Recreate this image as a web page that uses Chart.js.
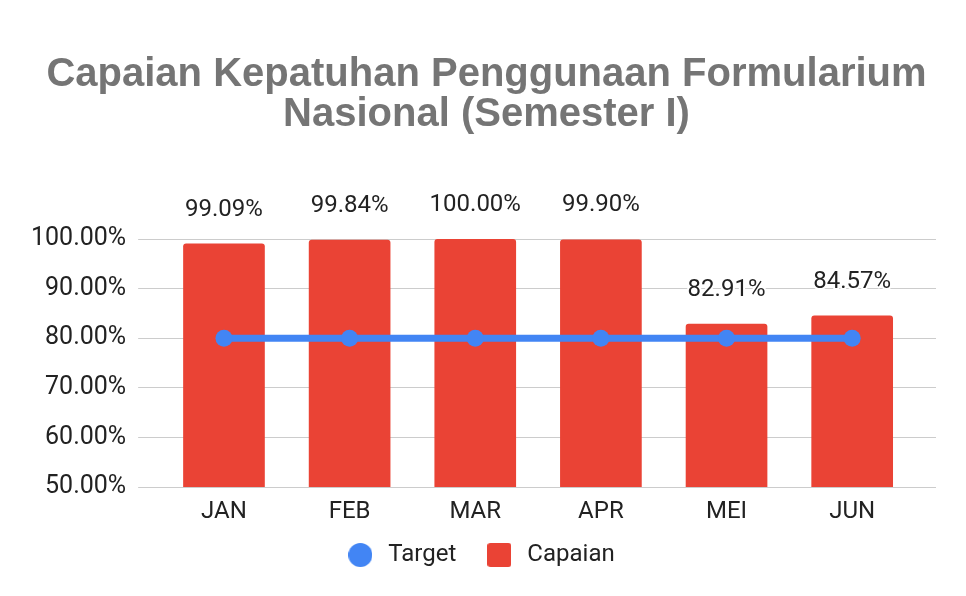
<!DOCTYPE html>
<html><head><meta charset="utf-8">
<script src="https://cdn.jsdelivr.net/npm/chart.js@4.4.0/dist/chart.umd.min.js"></script>
<style>html,body{margin:0;padding:0;background:#fff}#wrap{width:966px;height:596px;position:relative}</style>
</head><body><div id="wrap"><canvas id="c"></canvas></div>
<script>
const months = ['JAN', 'FEB', 'MAR', 'APR', 'MEI', 'JUN'];
const targetValues = [80, 80, 80, 80, 80, 80];
const capaianValues = [99.09, 99.84, 100.00, 99.90, 82.91, 84.57];
const titleLines = ['Capaian Kepatuhan Penggunaan Formularium', 'Nasional (Semester I)'];
const seriesNames = ['Target', 'Capaian'];

const RED = '#EA4335', BLUE = '#4285F4', GRID = '#cccccc', TXT = '#222222';

function swatch(color, shape) {
  const c = document.createElement('canvas');
  c.width = 24; c.height = 24;
  const g = c.getContext('2d');
  g.fillStyle = color;
  g.beginPath();
  if (shape === 'circle') g.arc(12, 12, 12, 0, Math.PI * 2);
  else g.roundRect(0, 0, 24, 24, 3);
  g.fill();
  return c;
}
const swatches = [swatch(BLUE, 'circle'), swatch(RED, 'rect')];

const valueLabels = {
  id: 'valueLabels',
  afterDatasetsDraw(chart) {
    const ctx = chart.ctx;
    const meta = chart.getDatasetMeta(1);
    ctx.save();
    ctx.font = '24px Roboto';
    ctx.textAlign = 'center';
    ctx.textBaseline = 'middle';
    ctx.lineJoin = 'round';
    meta.data.forEach((bar, i) => {
      const txt = capaianValues[i].toFixed(2) + '%';
      ctx.strokeStyle = '#ffffff';
      ctx.lineWidth = 4;
      ctx.strokeText(txt, bar.x, bar.y - 34);
      ctx.fillStyle = TXT;
      ctx.fillText(txt, bar.x, bar.y - 34);
    });
    ctx.restore();
  }
};

const nudge = {
  id: 'nudge',
  afterLayout(chart) {
    if (chart.titleBlock) { chart.titleBlock.left += 9; chart.titleBlock.right += 9; }
    if (chart.legend) { chart.legend.left += 2; chart.legend.right += 2; }
  }
};

new Chart(document.getElementById('c'), {
  data: {
    labels: months,
    datasets: [
      {
        type: 'line', label: seriesNames[0], data: targetValues, order: 0,
        borderColor: BLUE, backgroundColor: BLUE, borderWidth: 7,
        pointRadius: 8.5, pointHoverRadius: 8.5, pointBackgroundColor: BLUE, pointBorderWidth: 0,
        yAxisID: 'y'
      },
      {
        type: 'bar', label: seriesNames[1], data: capaianValues, order: 1,
        backgroundColor: RED, borderRadius: {topLeft: 3, topRight: 3, bottomLeft: 0, bottomRight: 0},
        borderSkipped: 'bottom',
        barPercentage: 0.65, categoryPercentage: 1, yAxisID: 'y'
      }
    ]
  },
  options: {
    responsive: true, maintainAspectRatio: false, animation: false,
    devicePixelRatio: 1,
    layout: {padding: {left: 19, right: 30, top: 0, bottom: 19}},
    plugins: {
      tooltip: {enabled: false},
      title: {
        display: true, text: titleLines, color: '#757575',
        font: {family: '"Liberation Sans", Arial, sans-serif', size: 40, weight: 'bold', lineHeight: 1.0},
        padding: {top: 55, bottom: 104}
      },
      legend: {
        position: 'bottom',
        labels: {
          color: TXT, font: {family: 'Roboto', size: 24},
          usePointStyle: true, pointStyleWidth: 32, padding: 27,
          generateLabels(chart) {
            const items = Chart.defaults.plugins.legend.labels.generateLabels(chart);
            items.forEach(it => { it.pointStyle = swatches[it.datasetIndex]; });
            return items;
          }
        }
      }
    },
    scales: {
      x: {
        grid: {display: false, drawTicks: false},
        border: {display: false},
        ticks: {color: TXT, font: {family: 'Roboto', size: 24}, padding: 11},
        afterFit: s => { s.height = 29; s._computeLabelArea = () => undefined; }
      },
      y: {
        position: 'left', min: 50, max: 100,
        grid: {color: GRID, lineWidth: 1, drawTicks: true, tickLength: 23, tickColor: GRID},
        border: {display: false},
        ticks: {stepSize: 10, color: TXT, font: {family: 'Roboto', size: 25}, padding: 12,
          callback: v => v.toFixed(2) + '%'}
      },
      y2: {
        position: 'right', min: 50, max: 100,
        grid: {drawOnChartArea: false, drawTicks: true, tickLength: 21, tickColor: GRID, color: GRID},
        border: {display: false},
        ticks: {stepSize: 10, padding: 0, callback: () => ''}
      }
    }
  },
  plugins: [valueLabels, nudge]
});
</script>
</body></html>
